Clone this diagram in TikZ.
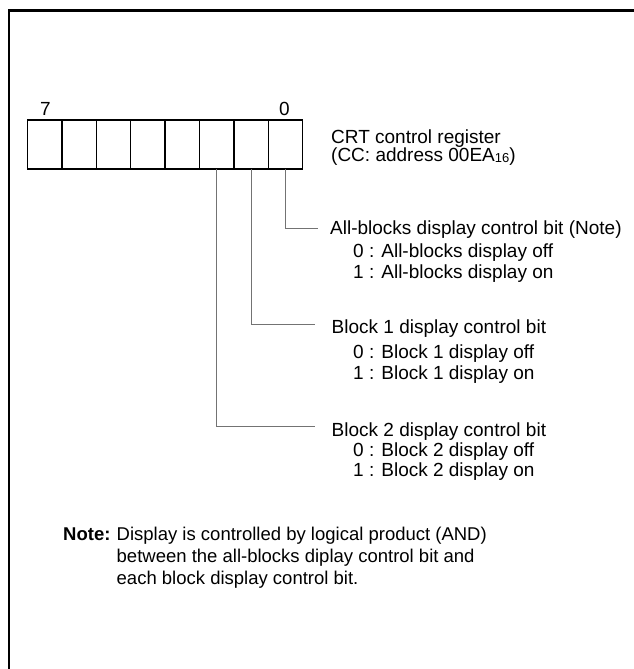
\documentclass[tikz,border=0pt]{standalone}
\usepackage{fontspec}
\setmainfont{Liberation Sans}
\begin{document}
\begin{tikzpicture}[x=1pt,y=-1pt,
  cell/.style={draw, line width=1.3pt, minimum width=34.4pt, minimum height=49pt, inner sep=0pt, outer sep=0pt},
  lbl/.style={anchor=base west, inner sep=0pt, font=\fontsize{19}{22}\selectfont},
  notelbl/.style={anchor=base west, inner sep=0pt, font=\fontsize{18.5}{22}\selectfont},
  lead/.style={draw=black!55, line width=0.8pt}]
\useasboundingbox (0,0) rectangle (634,669);
\draw[line width=2.6pt] (9,669) -- (9,10.5) -- (634,10.5);
\foreach \b in {0,...,7}
  \node[cell] (c\b) at ({302.7-34.4*(\b+0.5)},144.5) {};
\node[lbl, anchor=base] (n7) at (45.5,115) {7};
\node[lbl, anchor=base] (n0) at (284.5,115) {0};
\node[lbl] (reg1) at (331,143) {CRT control register};
\node[lbl] (reg2) at (331,161) {(CC: address 00EA{\fontsize{13}{13}\selectfont\raisebox{-1pt}{16}})};
% leads
\coordinate (e0) at (318,228);
\coordinate (e1) at (315,324);
\coordinate (e2) at (315,426);
\draw[lead] (c0.south) |- (e0);
\draw[lead] (c1.south) |- (e1);
\draw[lead] (c2.south) |- (e2);
% bit 0
\node[lbl] (t0) at (330,234) {All-blocks display control bit (Note)};
\node[lbl] (t0a) at (353,257) {0 : All-blocks display off};
\node[lbl] (t0b) at (353,278) {1 : All-blocks display on};
% bit 1
\node[lbl] (t1) at (331.5,333) {Block 1 display control bit};
\node[lbl] (t1a) at (353,358) {0 : Block 1 display off};
\node[lbl] (t1b) at (353,379) {1 : Block 1 display on};
% bit 2
\node[lbl] (t2) at (331.5,436) {Block 2 display control bit};
\node[lbl] (t2a) at (353,456) {0 : Block 2 display off};
\node[lbl] (t2b) at (353,476) {1 : Block 2 display on};
% note
\node[notelbl, font=\fontsize{18.5}{22}\selectfont\bfseries] (nt) at (63,540) {Note:};
\node[notelbl] (nt1) at (116.5,540) {Display is controlled by logical product (AND)};
\node[notelbl] (nt2) at (116.5,562) {between the all-blocks diplay control bit and};
\node[notelbl] (nt3) at (116.5,584) {each block display control bit.};
\end{tikzpicture}
\end{document}
